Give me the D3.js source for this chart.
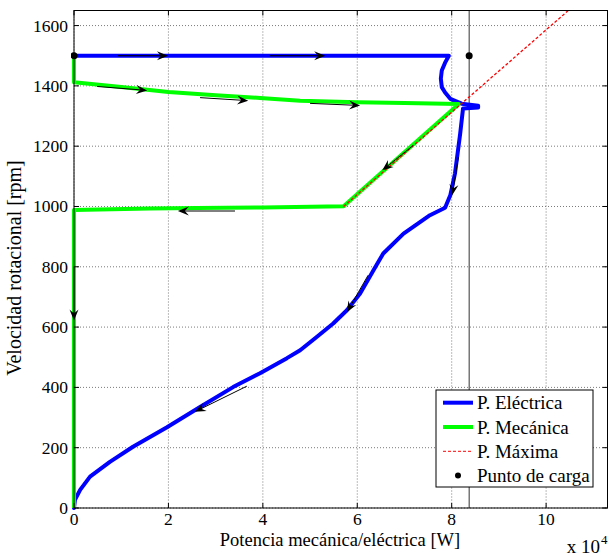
<!DOCTYPE html>
<html><head><meta charset="utf-8">
<script src="https://cdn.jsdelivr.net/npm/d3@7"></script>
<style>
html,body{margin:0;padding:0;background:#fff}
svg text{font-family:"Liberation Serif","Times New Roman",Tinos,Times,"DejaVu Serif",serif;}
</style>
</head><body>
<svg id="c" width="609" height="557"></svg>
<script>
// Values in units of 10^4 W (x) and rpm (y)
const xTicks = [0, 2, 4, 6, 8, 10];
const yTicks = [0, 200, 400, 600, 800, 1000, 1200, 1400, 1600];
const seriesNames = ["P. Eléctrica", "P. Mecánica", "P. Máxima", "Punto de carga"];
const electricaX = [0, 7.94, 7.86, 7.79, 7.77, 7.79, 7.86, 7.97, 8.21, 8.56, 8.56, 8.24, 8.18, 8.07, 7.97, 7.86, 7.54, 6.98, 6.55, 6.34, 6.06, 5.78, 5.49, 5.14, 4.79, 4.51, 3.94, 3.37, 2.67, 1.97, 1.25, 0.76, 0.34, 0.13, 0.02, 0];
const electricaY = [1500, 1500, 1477, 1451, 1424, 1396, 1378, 1357, 1341, 1334, 1328, 1325, 1242, 1110, 1037, 996, 971, 910, 844, 788, 711, 656, 612, 567, 523, 497, 447, 401, 335, 268, 203, 153, 104, 60, 27, 0];
const mecanicaX = [0, 0, 1.0, 2.0, 3.0, 3.94, 4.79, 6.0, 7.0, 8.15, 5.71, 4.0, 2.6, 1.6, 0, 0];
const mecanicaY = [1500, 1412, 1396, 1380, 1369, 1360, 1351, 1346, 1343, 1340, 1001, 997, 995, 993, 988, 0];
const maximaX = [5.71, 10.47];
const maximaY = [1000, 1650];
const cargaX = [0, 8.37];
const cargaY = [1500, 1500];
const cargaLineX = 8.37;
// direction arrows: [x1, y1, x2, y2] (tail -> head)
const arrowsData = [
  [0.93, 1500, 1.99, 1500],
  [4.15, 1500, 5.32, 1500],
  [0.49, 1398, 1.55, 1385],
  [2.67, 1361, 3.69, 1351],
  [5.0, 1342, 6.06, 1335],
  [7.18, 1202, 6.53, 1120],
  [3.41, 985, 2.20, 985],
  [0, 800, 0, 622],
  [8.14, 1163, 8.01, 1037],
  [6.23, 772, 5.78, 649],
  [3.66, 404, 2.56, 319]
];

const svg = d3.select("#c");
const L = 74, R = 607.5, T = 10.5, B = 508;
const x = d3.scaleLinear().domain([0, 11.3]).range([L, R]);
const y = d3.scaleLinear().domain([0, 1650]).range([B, T]);

// grid
const g = svg.append("g");
g.selectAll(".gx").data(xTicks).enter().append("line")
  .attr("x1", d => x(d)).attr("x2", d => x(d)).attr("y1", T).attr("y2", B)
  .attr("stroke", "#7a7a7a").attr("stroke-width", 1).attr("stroke-dasharray", "1,2");
g.selectAll(".gy").data(yTicks).enter().append("line")
  .attr("y1", d => y(d)).attr("y2", d => y(d)).attr("x1", L).attr("x2", R)
  .attr("stroke", "#7a7a7a").attr("stroke-width", 1).attr("stroke-dasharray", "1,2");

// vertical line at load point
svg.append("line").attr("x1", x(cargaLineX)).attr("x2", x(cargaLineX))
  .attr("y1", T).attr("y2", B).attr("stroke", "#333").attr("stroke-width", 1);

svg.append("defs").append("clipPath").attr("id", "clp")
  .append("rect").attr("x", L - 3).attr("y", T).attr("width", R - L + 3).attr("height", B - T + 3);

const line = d3.line().x(d => x(d[0])).y(d => y(d[1]));
const plot = svg.append("g").attr("clip-path", "url(#clp)");
plot.append("path").datum(electricaX.map((v, i) => [v, electricaY[i]]))
  .attr("d", line).attr("fill", "none").attr("stroke", "#0000ff").attr("stroke-width", 4)
  .attr("stroke-linejoin", "round").attr("stroke-linecap", "round");
plot.append("path").datum(mecanicaX.map((v, i) => [v, mecanicaY[i]]))
  .attr("d", line).attr("fill", "none").attr("stroke", "#00ff00").attr("stroke-width", 4)
  .attr("stroke-linejoin", "round");
plot.append("path").datum(maximaX.map((v, i) => [v, maximaY[i]]))
  .attr("d", line).attr("fill", "none").attr("stroke", "#ff0000").attr("stroke-width", 1.3)
  .attr("stroke-dasharray", "3,2");
plot.selectAll(".pt").data(cargaX.map((v, i) => [v, cargaY[i]])).enter().append("circle")
  .attr("cx", d => x(d[0])).attr("cy", d => y(d[1])).attr("r", 3.5).attr("fill", "#000");

// arrows
const ag = svg.append("g");
arrowsData.forEach(a => {
  const x1 = x(a[0]), y1 = y(a[1]), x2 = x(a[2]), y2 = y(a[3]);
  const rad = Math.atan2(y2 - y1, x2 - x1);
  const ang = rad * 180 / Math.PI;
  ag.append("line").attr("x1", x1).attr("y1", y1)
    .attr("x2", x2 - 5 * Math.cos(rad)).attr("y2", y2 - 5 * Math.sin(rad))
    .attr("stroke", "#000").attr("stroke-width", 1);
  ag.append("path").attr("d", "M0,0 L-11,-4.5 L-7,0 L-11,4.5 Z")
    .attr("transform", `translate(${x2},${y2}) rotate(${ang})`).attr("fill", "#000");
});

// frame
svg.append("rect").attr("x", L).attr("y", T).attr("width", R - L).attr("height", B - T)
  .attr("fill", "none").attr("stroke", "#000").attr("stroke-width", 1);
// ticks (inside, all four sides)
const tk = svg.append("g").attr("stroke", "#000").attr("stroke-width", 1);
xTicks.forEach(d => {
  tk.append("line").attr("x1", x(d)).attr("x2", x(d)).attr("y1", B).attr("y2", B - 5);
  tk.append("line").attr("x1", x(d)).attr("x2", x(d)).attr("y1", T).attr("y2", T + 5);
});
yTicks.forEach(d => {
  tk.append("line").attr("y1", y(d)).attr("y2", y(d)).attr("x1", L).attr("x2", L + 5);
  tk.append("line").attr("y1", y(d)).attr("y2", y(d)).attr("x1", R).attr("x2", R - 5);
});
// tick labels
svg.selectAll(".xl").data(xTicks).enter().append("text")
  .attr("x", d => x(d)).attr("y", 525).attr("text-anchor", "middle")
  .attr("font-size", 17.5).text(d => d);
svg.selectAll(".yl").data(yTicks).enter().append("text")
  .attr("x", L - 6).attr("y", d => y(d) + 6).attr("text-anchor", "end")
  .attr("font-size", 17.5).text(d => d);

// axis titles
svg.append("text").attr("x", 340).attr("y", 546).attr("text-anchor", "middle")
  .attr("font-size", 18.5).text("Potencia mecánica/eléctrica [W]");
svg.append("text").attr("transform", `translate(21,268) rotate(-90)`)
  .attr("text-anchor", "middle").attr("font-size", 20)
  .text("Velocidad rotacional [rpm]");
svg.append("text").attr("x", 600).attr("y", 553).attr("text-anchor", "end")
  .attr("font-size", 19).text("x 10");
svg.append("text").attr("x", 601).attr("y", 544).attr("font-size", 13).text("4");

// legend
const lg = svg.append("g");
lg.append("rect").attr("x", 436).attr("y", 390).attr("width", 157).attr("height", 97)
  .attr("fill", "#fff").attr("stroke", "#000").attr("stroke-width", 1);
const rowsY = [402.7, 427, 451.3, 475.6];
const styles = [
  {stroke: "#0000ff", w: 4, dash: null},
  {stroke: "#00ff00", w: 4, dash: null},
  {stroke: "#ff0000", w: 1, dash: "3,2"},
  null
];
seriesNames.forEach((n, i) => {
  const yy = rowsY[i];
  if (styles[i]) {
    lg.append("line").attr("x1", 443).attr("x2", 473).attr("y1", yy).attr("y2", yy)
      .attr("stroke", styles[i].stroke).attr("stroke-width", styles[i].w)
      .attr("stroke-dasharray", styles[i].dash);
  } else {
    lg.append("circle").attr("cx", 458).attr("cy", yy).attr("r", 3).attr("fill", "#000");
  }
  lg.append("text").attr("x", 477).attr("y", yy + 6.5).attr("font-size", 19).text(n);
});
</script>
</body></html>
